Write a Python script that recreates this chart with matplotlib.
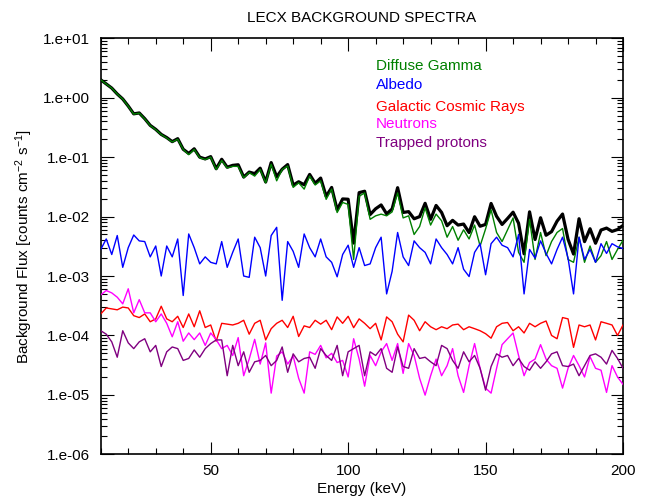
import numpy as np
import matplotlib
matplotlib.use("Agg")
import matplotlib.pyplot as plt
from matplotlib.ticker import FuncFormatter, FixedLocator, LogLocator, MultipleLocator

plt.rcParams['font.family'] = ['Liberation Sans', 'DejaVu Sans']
plt.rcParams['font.size'] = 11
plt.rcParams['mathtext.default'] = 'regular'

# energy grid, 2 keV bins
energy = np.arange(10, 201, 2)

diffuse_gamma = [2.0, 1.7, 1.45, 1.15, 0.95, 0.72, 0.53, 0.55, 0.44, 0.34,
                 0.29, 0.24, 0.21, 0.18, 0.20, 0.135, 0.11, 0.135, 0.098, 0.091,
                 0.10, 0.062, 0.088, 0.066, 0.07, 0.07, 0.045, 0.055, 0.048, 0.062,
                 0.037, 0.076, 0.040, 0.062, 0.071, 0.031, 0.037, 0.029, 0.048, 0.034,
                 0.040, 0.0195, 0.029, 0.0117, 0.0173, 0.016, 0.0019, 0.022, 0.025, 0.009,
                 0.0103, 0.011, 0.0103, 0.012, 0.025, 0.0095, 0.0103, 0.005, 0.0068, 0.014,
                 0.0072, 0.011, 0.0085, 0.0045, 0.0068, 0.004, 0.006, 0.0042, 0.0072, 0.0032,
                 0.0062, 0.013, 0.0054, 0.0038, 0.006, 0.0095, 0.0025, 0.0017, 0.009, 0.0019,
                 0.0054, 0.0022, 0.0038, 0.0054, 0.0063, 0.0019, 0.0017, 0.0045, 0.0017, 0.0032,
                 0.0017, 0.0022, 0.0038, 0.0019, 0.0028, 0.004]

albedo = [0.0028, 0.0042, 0.0023, 0.0048, 0.0014, 0.0030, 0.0049, 0.0039, 0.0038, 0.0021,
          0.0032, 0.0010, 0.0032, 0.0021, 0.0042, 0.00047, 0.0051, 0.0030, 0.0016, 0.0021,
          0.0017, 0.0016, 0.0038, 0.0014, 0.0025, 0.0042, 0.0010, 0.00095, 0.0045, 0.0030,
          0.0010, 0.0048, 0.0066, 0.00039, 0.0038, 0.0026, 0.0014, 0.0051, 0.0030, 0.0021,
          0.0042, 0.0021, 0.0017, 0.00097, 0.0023, 0.0033, 0.0014, 0.0030, 0.0015, 0.0016,
          0.0030, 0.0045, 0.0005, 0.0012, 0.0054, 0.0021, 0.0015, 0.0039, 0.0030, 0.0025,
          0.0016, 0.0042, 0.0030, 0.0023, 0.0016, 0.0030, 0.0013, 0.00098, 0.0025, 0.0035,
          0.00105, 0.0035, 0.0045, 0.0033, 0.0030, 0.0021, 0.0050, 0.0005, 0.0028, 0.0020,
          0.0039, 0.0024, 0.0016, 0.0028, 0.0045, 0.0020, 0.0005, 0.0045, 0.0019, 0.0028,
          0.0017, 0.0035, 0.0024, 0.0035, 0.0031, 0.0029]

cosmic_rays = [2.3e-4, 2.9e-4, 2.8e-4, 2.7e-4, 3.0e-4, 2.9e-4, 2.15e-4, 2.0e-4, 2.3e-4, 1.7e-4,
               1.9e-4, 3.1e-4, 1.9e-4, 1.7e-4, 2.1e-4, 1.36e-4, 2.3e-4, 1.4e-4, 2.6e-4, 1.36e-4,
               1.5e-4, 8e-5, 1.6e-4, 1.55e-4, 1.5e-4, 1.6e-4, 1.8e-4, 1.05e-4, 1.6e-4, 1.8e-4,
               8.4e-5, 1.3e-4, 1.6e-4, 1.8e-4, 1.36e-4, 2.1e-4, 9.6e-5, 1.45e-4, 1.36e-4, 1.8e-4,
               1.55e-4, 1.8e-4, 1.25e-4, 2.05e-4, 1.6e-4, 2.1e-4, 1.35e-4, 1.9e-4, 1.6e-4, 1.3e-4,
               1.6e-4, 8.4e-5, 2.05e-4, 1.7e-4, 1.05e-4, 7.8e-5, 2.2e-4, 1.8e-4, 1.2e-4, 1.7e-4,
               1.4e-4, 1.25e-4, 1.4e-4, 1.3e-4, 1.5e-4, 1.55e-4, 1.25e-4, 1.4e-4, 1.3e-4, 1.2e-4,
               1.07e-4, 9e-5, 1.4e-4, 1.6e-4, 1.65e-4, 1.2e-4, 1.4e-4, 1.1e-4, 1.6e-4, 1.4e-4,
               1.6e-4, 1.75e-4, 1.0e-4, 8.8e-5, 2.0e-4, 1.9e-4, 6.3e-5, 1.5e-4, 1.4e-4, 1.5e-4,
               8.4e-5, 1.7e-4, 1.6e-4, 1.5e-4, 1.0e-4, 1.5e-4]

neutrons = [4.8e-4, 5.7e-4, 5.2e-4, 4.4e-4, 3.4e-4, 6.1e-4, 2.4e-4, 4.0e-4, 2.4e-4, 2.4e-4,
            1.7e-4, 2.3e-4, 1.6e-4, 9.5e-5, 1.7e-4, 8.0e-5, 1.1e-4, 8.5e-5, 1.1e-4, 6.8e-5,
            1.1e-4, 8.5e-5, 6.0e-5, 6.8e-5, 4.6e-5, 9.2e-5, 2.1e-5, 4.0e-5, 8.6e-5, 3.3e-5,
            7.5e-5, 1.07e-5, 4.5e-5, 5.3e-5, 3.3e-5, 4.5e-5, 1.9e-5, 1.07e-5, 5.3e-5, 4.8e-5,
            6.8e-5, 4.2e-5, 5.0e-5, 3.5e-5, 3.8e-5, 2.0e-5, 8.8e-5, 4.0e-5, 1.4e-5, 4.6e-5,
            3.1e-5, 5.3e-5, 7.3e-5, 3.8e-5, 7.3e-5, 2.3e-5, 7.3e-5, 4.6e-5, 1.9e-5, 9.9e-6,
            2.1e-5, 4.0e-5, 2.1e-5, 3.1e-5, 6.0e-5, 2.1e-5, 1.1e-5, 3.1e-5, 7.3e-5, 2.8e-5,
            1.3e-5, 1.07e-5, 2.8e-5, 7.0e-5, 8.8e-5, 1.1e-4, 4.6e-5, 2.1e-5, 3.5e-5, 4.0e-5,
            7.0e-5, 4.0e-5, 3.1e-5, 2.8e-5, 1.3e-5, 2.8e-5, 4.6e-5, 3.1e-5, 2.0e-5, 4.4e-5,
            2.8e-5, 2.6e-5, 1.1e-5, 3.1e-5, 2.0e-5, 1.5e-5]

trapped_protons = [1.2e-4, 1.05e-4, 7.8e-5, 4.3e-5, 1.2e-4, 7.5e-5, 6.0e-5, 7.8e-5, 8.8e-5, 5.3e-5,
                   6.8e-5, 3.0e-5, 5.3e-5, 6.4e-5, 6.0e-5, 3.8e-5, 4.1e-5, 5.7e-5, 4.3e-5, 6.0e-5,
                   7.3e-5, 8.4e-5, 8.4e-5, 2.1e-5, 6.8e-5, 3.1e-5, 5.3e-5, 2.4e-5, 3.6e-5, 3.8e-5,
                   4.6e-5, 3.1e-5, 3.8e-5, 6.4e-5, 2.4e-5, 4.9e-5, 3.6e-5, 4.1e-5, 4.3e-5, 2.8e-5,
                   6.0e-5, 4.6e-5, 3.8e-5, 6.8e-5, 2.1e-5, 5.3e-5, 6.0e-5, 6.8e-5, 2.1e-5, 5.3e-5,
                   4.6e-5, 6.0e-5, 2.8e-5, 2.4e-5, 6.4e-5, 3.0e-5, 2.8e-5, 6.0e-5, 4.1e-5, 4.3e-5,
                   3.6e-5, 3.1e-5, 6.8e-5, 6.0e-5, 3.8e-5, 2.8e-5, 5.3e-5, 3.6e-5, 4.6e-5, 2.8e-5,
                   1.2e-5, 3.0e-5, 4.9e-5, 4.3e-5, 4.6e-5, 3.1e-5, 4.1e-5, 3.0e-5, 2.6e-5, 3.6e-5,
                   2.8e-5, 3.6e-5, 4.9e-5, 5.3e-5, 3.1e-5, 3.0e-5, 3.3e-5, 2.1e-5, 3.1e-5, 4.6e-5,
                   4.9e-5, 4.3e-5, 3.3e-5, 5.6e-5, 4.1e-5, 2.8e-5]

## total background is the sum of all components
total = (np.array(diffuse_gamma) + np.array(albedo) + np.array(cosmic_rays)
         + np.array(neutrons) + np.array(trapped_protons))

labels = ["Diffuse Gamma", "Albedo", "Galactic Cosmic Rays", "Neutrons", "Trapped protons"]
colors = ["#008000", "#0000ff", "#ff0000", "#ff00ff", "#800080"]
series = [diffuse_gamma, albedo, cosmic_rays, neutrons, trapped_protons]

x_ticks = [50, 100, 150, 200]
y_ticks = [1e-6, 1e-5, 1e-4, 1e-3, 1e-2, 1e-1, 1e0, 1e1]

fig = plt.figure(figsize=(6.5, 5), dpi=100)
ax = fig.add_axes([0.155, 0.0914, 0.8035, 0.832])

ax.plot(energy, total, color="black", lw=2.3, zorder=2)
for s, c in zip(series, colors):
    ax.plot(energy, s, color=c, lw=1.0, zorder=3)

ax.set_yscale("log")
ax.set_xlim(10, 200)
ax.set_ylim(1e-6, 1e1)

ax.xaxis.set_major_locator(FixedLocator(x_ticks))
ax.xaxis.set_minor_locator(MultipleLocator(10))
ax.yaxis.set_major_locator(FixedLocator(y_ticks))
ax.yaxis.set_minor_locator(LogLocator(base=10, subs=np.arange(2, 10), numticks=20))
ax.yaxis.set_major_formatter(FuncFormatter(lambda v, p: "1.e%+03d" % int(round(np.log10(v)))))

ax.tick_params(which="both", direction="in", top=True, right=True, width=0.8, colors="black")
ax.tick_params(which="major", length=9)
ax.tick_params(which="minor", length=4.5)
ax.tick_params(axis="y", which="major", pad=8)
ax.tick_params(axis="x", which="major", pad=7)
for sp in ax.spines.values():
    sp.set_linewidth(1.2)

ax.set_title("LECX BACKGROUND SPECTRA", fontsize=11, pad=12)
ax.set_xlabel("Energy (keV)")
ax.set_ylabel(r"Background Flux [counts cm$^{-2}$ s$^{-1}$]")
ax.xaxis.set_label_coords(0.5, -0.066)
ax.yaxis.set_label_coords(-0.126, 0.5)

## legend as coloured text
legend_y = [70, 89, 111, 128.3, 146.7]
for lab, c, yp in zip(labels, colors, legend_y):
    fig.text(376 / 650, 1 - yp / 500, lab, color=c, fontsize=11, va="baseline", ha="left")

fig.savefig("out.png", dpi=100)
